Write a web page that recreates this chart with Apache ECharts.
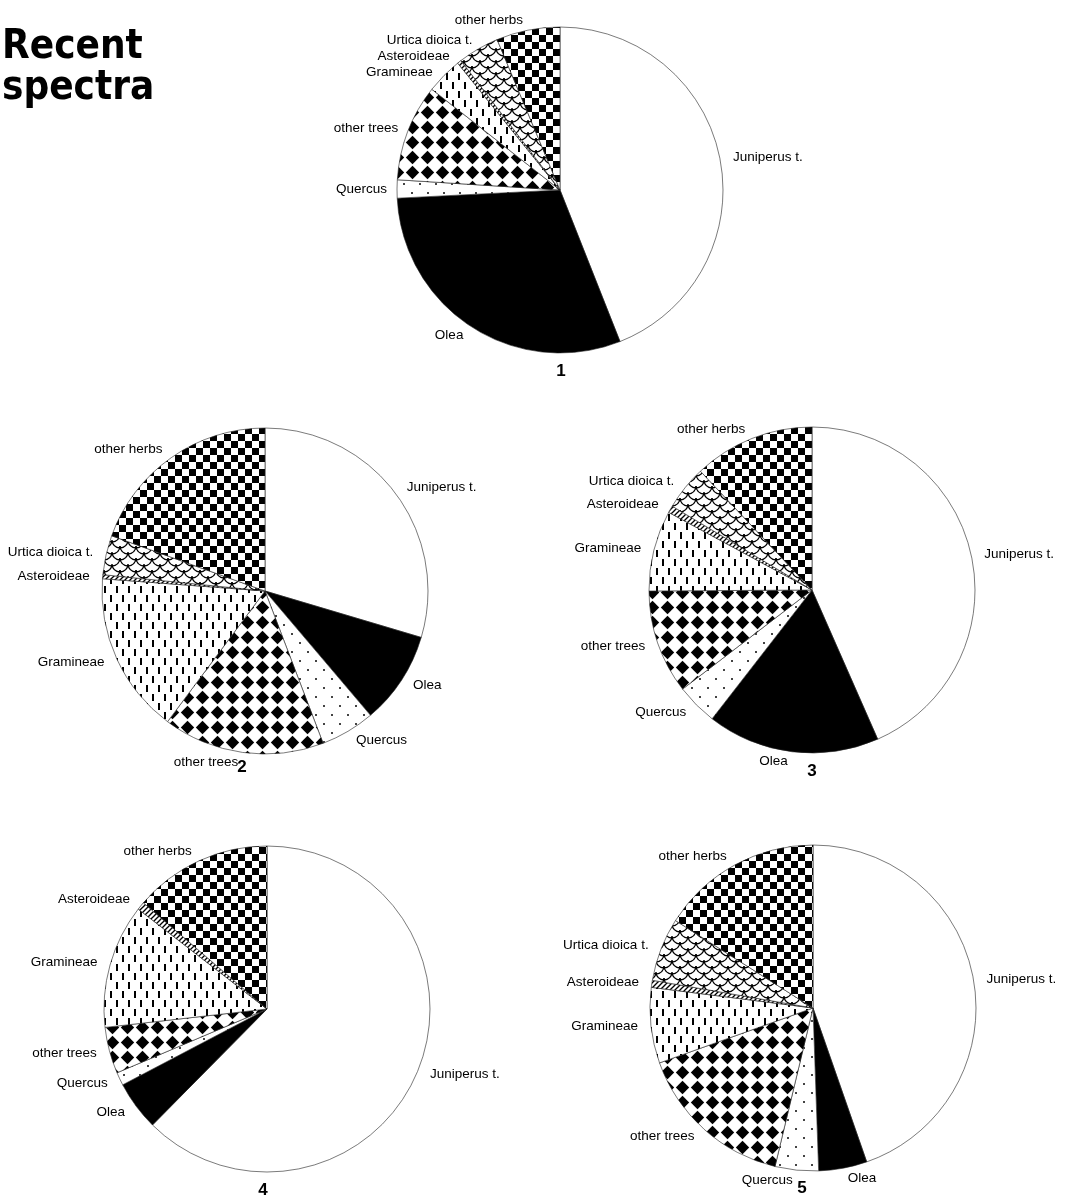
<!DOCTYPE html>
<html><head><meta charset="utf-8">
<script src="https://cdn.jsdelivr.net/npm/echarts@6/dist/echarts.min.js"></script>
<style>html,body{margin:0;padding:0;background:#fff}#c{width:1068px;height:1196px}</style>
</head><body><div id="c"></div>
<script>
// ---- data (percent of pollen sum) ----
const categories = ['Juniperus t.', 'Olea', 'Quercus', 'other trees', 'Gramineae', 'Asteroideae', 'Urtica dioica t.', 'other herbs'];
const spectrum1 = [44.0, 30.2, 1.8, 9.6, 3.6, 0.4, 4.1, 6.3];
const spectrum2 = [29.6, 9.2, 5.4, 16.0, 16.0, 0.4, 3.9, 19.5];
const spectrum3 = [43.4, 17.1, 4.1, 10.3, 8.0, 0.7, 4.4, 12.0];
const spectrum4 = [62.4, 4.9, 1.3, 4.6, 12.3, 0.8, 0, 13.7];
const spectrum5 = [44.7, 4.8, 4.3, 15.8, 7.5, 0.7, 6.3, 16.0];
const spectrumLabels = ['1', '2', '3', '4', '5'];
const chartTitle = 'Recent\nspectra';

// ---- layout ----
const spectra = [spectrum1, spectrum2, spectrum3, spectrum4, spectrum5];
const centers = [[560, 190], [265, 591], [812, 590], [267, 1009], [813, 1008]];
const numberPos = [[561, 371], [242, 767], [812, 771], [263, 1190], [802, 1188]];
const R = 163;

function makeTile(w, h, draw) {
  const c = document.createElement('canvas');
  c.width = w; c.height = h;
  const g = c.getContext('2d');
  g.fillStyle = '#fff'; g.fillRect(0, 0, w, h);
  g.fillStyle = '#000'; g.strokeStyle = '#000';
  draw(g);
  return { image: c, repeat: 'repeat' };
}
const fills = [
  '#ffffff',
  '#000000',
  makeTile(16, 18, g => { g.fillStyle = '#444'; g.fillRect(3, 3, 2, 2); g.fillRect(11, 12, 2, 2); }),
  makeTile(15, 15, g => { g.beginPath(); g.moveTo(7.5, 0.8); g.lineTo(14.2, 7.5); g.lineTo(7.5, 14.2); g.lineTo(0.8, 7.5); g.closePath(); g.fill(); }),
  makeTile(12, 18, g => { g.fillRect(2, 1, 2, 7); g.fillRect(8, 10, 2, 7); }),
  makeTile(5, 5, g => { g.lineWidth = 1.3; for (let k = -1; k <= 1; k++) { g.beginPath(); g.moveTo(k * 5 - 1, 6); g.lineTo(k * 5 + 6, -1); g.stroke(); } }),
  makeTile(16, 12, g => {
    g.lineWidth = 1.3;
    [[8, 0], [0, 6], [16, 6], [0, -6], [16, -6], [8, 12]].forEach(([x, y]) => { g.beginPath(); g.arc(x, y, 8, 0, Math.PI); g.stroke(); });
  }),
  makeTile(14, 14, g => { g.fillRect(0, 0, 7, 7); g.fillRect(7, 7, 7, 7); })
];

const chart = echarts.init(document.getElementById('c'), null, { renderer: 'canvas' });
const series = spectra.map((vals, i) => ({
  type: 'pie',
  center: centers[i],
  radius: R,
  startAngle: 90,
  clockwise: true,
  animation: false,
  avoidLabelOverlap: true,
  data: categories.map((name, j) => ({ name: name, value: vals[j], itemStyle: { color: fills[j] } })).filter(d => d.value > 0),
  itemStyle: { borderColor: '#222', borderWidth: 0.6 },
  label: { show: true, position: 'outside', formatter: '{b}', color: '#000', fontFamily: 'Liberation Sans', fontSize: 13.5, distanceToLabelLine: 3, overflow: 'none', bleedMargin: 0 },
  labelLine: { show: false, length: 10, length2: 0 },
  emphasis: { disabled: true }
}));

const graphics = [{
  type: 'text', x: 2, y: 27, scaleX: 0.9,
  style: { text: chartTitle, font: 'bold 40px "DejaVu Sans"', lineHeight: 41, fill: '#000', align: 'left', verticalAlign: 'top' }
}].concat(spectrumLabels.map((t, i) => ({
  type: 'text', x: numberPos[i][0], y: numberPos[i][1],
  style: { text: t, font: 'bold 17px "Liberation Sans"', fill: '#000', align: 'center', verticalAlign: 'middle' }
})));

chart.setOption({
  animation: false,
  backgroundColor: '#fff',
  series: series,
  graphic: graphics
});
</script></body></html>
